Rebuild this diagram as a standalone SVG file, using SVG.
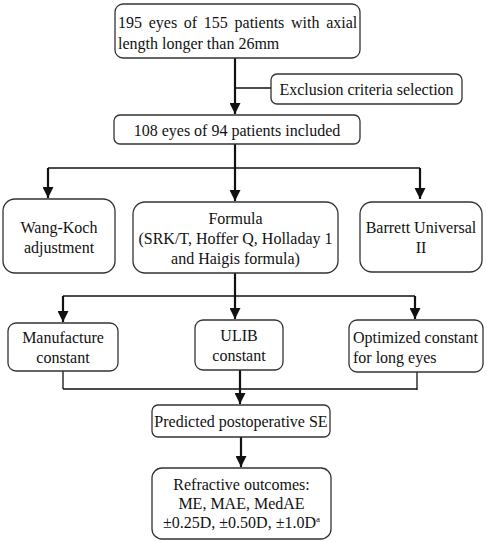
<svg xmlns="http://www.w3.org/2000/svg" width="486" height="542" viewBox="0 0 486 542" font-family="Liberation Serif, serif">
<defs>
<style>
.box{fill:#fff;stroke:#333;stroke-width:1.3}
text{font-family:'Liberation Serif',serif;font-size:16px;fill:#111}
.c{text-anchor:middle}
.ln{stroke:#111;stroke-width:1.3;fill:none}
.ar{stroke:#111;stroke-width:2.2;fill:none}
</style>
<marker id="ah" viewBox="0 0 10 10" refX="10" refY="5" markerWidth="5" markerHeight="5" markerUnits="strokeWidth" orient="auto">
<path d="M0,0 L10,5 L0,10 Z" fill="#111"/>
</marker>
</defs>
<rect width="486" height="542" fill="#fff"/>
<g id="connectors">
<line class="ar" x1="235" y1="58" x2="235" y2="114" marker-end="url(#ah)"/>
<line class="ln" x1="235" y1="88" x2="271" y2="88"/>
<line class="ar" x1="235" y1="144" x2="235" y2="168"/>
<line class="ln" x1="48" y1="168" x2="420" y2="168"/>
<line class="ar" x1="48" y1="168" x2="48" y2="198" marker-end="url(#ah)"/>
<line class="ar" x1="235" y1="168" x2="235" y2="201" marker-end="url(#ah)"/>
<line class="ar" x1="420" y1="168" x2="420" y2="199" marker-end="url(#ah)"/>
<line class="ar" x1="235" y1="273" x2="235" y2="296"/>
<line class="ln" x1="63" y1="296" x2="415" y2="296"/>
<line class="ar" x1="63" y1="296" x2="63" y2="322" marker-end="url(#ah)"/>
<line class="ar" x1="235" y1="296" x2="235" y2="319" marker-end="url(#ah)"/>
<line class="ar" x1="415" y1="296" x2="415" y2="319" marker-end="url(#ah)"/>
<line class="ln" x1="63" y1="371" x2="63" y2="389"/>
<line class="ln" x1="417" y1="372" x2="417" y2="390"/>
<line class="ln" x1="63" y1="389" x2="417" y2="389"/>
<line class="ar" x1="240" y1="370" x2="240" y2="404" marker-end="url(#ah)"/>
<line class="ar" x1="241" y1="437" x2="241" y2="467" marker-end="url(#ah)"/>
</g>
<g id="n1"><rect class="box" x="115" y="4" width="245" height="54" rx="8"/>
<text x="118" y="28" word-spacing="2.7">195 eyes of 155 patients with axial</text>
<text x="118" y="49">length longer than 26mm</text></g>
<g id="n2"><rect class="box" x="271" y="74" width="191" height="30" rx="6"/>
<text class="c" x="366.5" y="95">Exclusion criteria selection</text></g>
<g id="n3"><rect class="box" x="114" y="115" width="246" height="29" rx="6"/>
<text class="c" x="237" y="136">108 eyes of 94 patients included</text></g>
<g id="n4"><rect class="box" x="3" y="199" width="112" height="74" rx="12"/>
<text class="c" x="59" y="233">Wang-Koch</text>
<text class="c" x="59" y="253">adjustment</text></g>
<g id="n5"><rect class="box" x="133" y="202" width="205" height="71" rx="12"/>
<text class="c" x="235.5" y="224">Formula</text>
<text class="c" x="235.5" y="244">(SRK/T, Hoffer Q, Holladay 1</text>
<text class="c" x="235.5" y="264">and Haigis formula)</text></g>
<g id="n6"><rect class="box" x="360" y="202" width="122" height="70" rx="12"/>
<text class="c" x="421" y="233">Barrett Universal</text>
<text class="c" x="421" y="253">II</text></g>
<g id="n7"><rect class="box" x="8" y="323" width="110" height="48" rx="8"/>
<text class="c" x="63" y="343">Manufacture</text>
<text class="c" x="63" y="363">constant</text></g>
<g id="n8"><rect class="box" x="195" y="320" width="88" height="50" rx="8"/>
<text class="c" x="239" y="341">ULIB</text>
<text class="c" x="239" y="361">constant</text></g>
<g id="n9"><rect class="box" x="349" y="320" width="134" height="52" rx="8"/>
<text x="353" y="343">Optimized constant</text>
<text x="353" y="363">for long eyes</text></g>
<g id="n10"><rect class="box" x="152" y="405" width="178" height="32" rx="6"/>
<text class="c" x="241" y="427">Predicted postoperative SE</text></g>
<g id="n11"><rect class="box" x="152" y="468" width="179" height="71" rx="10"/>
<text class="c" x="241.5" y="490">Refractive outcomes:</text>
<text class="c" x="241.5" y="509">ME, MAE, MedAE</text>
<text class="c" x="241.5" y="528">±0.25D, ±0.50D, ±1.0D<tspan font-size="9" dy="-6">a</tspan></text></g>
</svg>
